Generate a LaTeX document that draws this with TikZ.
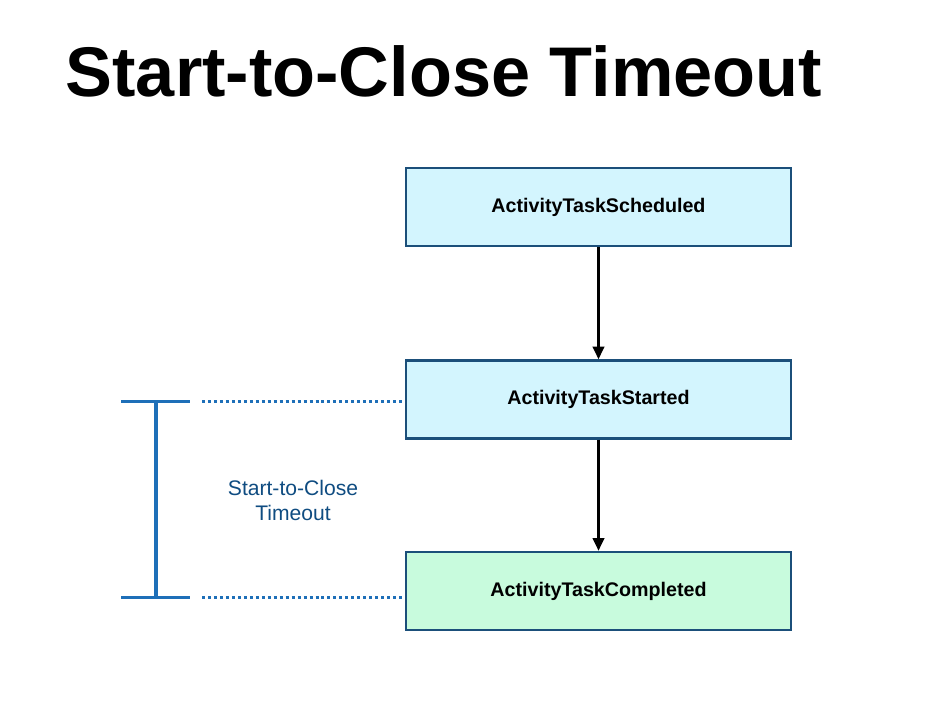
\documentclass[tikz,border=0pt]{standalone}
\usepackage{fontspec}
\setmainfont{Liberation Sans}
\usepackage{tikz}
\usetikzlibrary{positioning,arrows.meta,calc}

\definecolor{boxline}{HTML}{1B4F7A}
\definecolor{cyanfill}{HTML}{D3F5FE}
\definecolor{greenfill}{HTML}{C8FBDD}
\definecolor{bracketblue}{HTML}{1E6FB8}
\definecolor{labelblue}{HTML}{0F4C81}

\tikzset{
    eventbox/.style={draw=boxline, line width=0.7pt, minimum width=3.85cm, minimum height=0.78cm,
                     inner sep=0pt, font=\fontsize{5.6}{6.7}\selectfont\bfseries},
    flow/.style={-{Triangle[length=3.6pt,width=3.3pt]}, line width=0.6pt, black},
    bracket/.style={bracketblue, line width=1.1pt},
    guide/.style={bracketblue, line width=0.85pt, dash pattern=on 0.85pt off 0.85pt}
}

\begin{document}
\begin{tikzpicture}
                    \useasboundingbox (0,0) rectangle (9.38,7.12);
                    % title
                    \node[anchor=base west, inner sep=0pt, font=\fontsize{20}{24}\selectfont\bfseries] (title) at (0.65,6.16) {Start-to-Close Timeout};
                    % events
                    \node[eventbox, fill=cyanfill] (scheduled) at (5.985,5.05) {ActivityTaskScheduled};
                    \node[eventbox, fill=cyanfill, below=1.12cm of scheduled] (started) {ActivityTaskStarted};
                    \node[eventbox, fill=greenfill, below=1.11cm of started] (completed) {ActivityTaskCompleted};
                    \draw[flow] (scheduled) -- (started);
                    \draw[flow] (started) -- (completed);
                    % timeout bracket
                    \coordinate (top) at (1.56,3.105);
                    \coordinate (bot) at (1.56,1.145);
                    \draw[bracket] (top) -- (bot);
                    \draw[bracket] ($(top)+(-0.35,0)$) -- ($(top)+(0.34,0)$);
                    \draw[bracket] ($(bot)+(-0.35,0)$) -- ($(bot)+(0.34,0)$);
                    \draw[guide] ($(top)+(0.46,0)$) -- (started.west |- top);
                    \draw[guide] ($(bot)+(0.46,0)$) -- (completed.west |- bot);
                    \node[labelblue, align=center, font=\fontsize{6}{7.1}\selectfont] (timeout) at (2.93,2.12) {Start-to-Close\\Timeout};
                \end{tikzpicture}
\end{document}
